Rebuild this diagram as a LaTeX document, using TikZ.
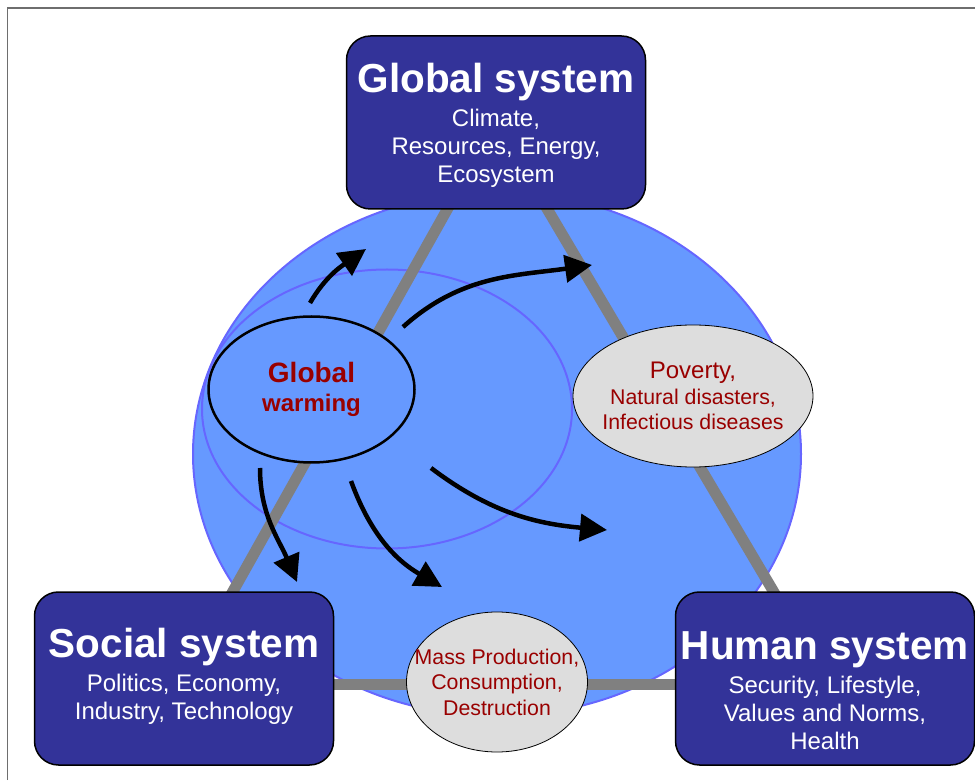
\documentclass[tikz,border=0pt]{standalone}
\usepackage{fontspec}
\setmainfont{Liberation Sans}
\usetikzlibrary{arrows.meta, shapes.geometric, backgrounds, positioning}
\definecolor{sysblue}{HTML}{333399}
\definecolor{earthblue}{HTML}{6699FF}
\definecolor{rimblue}{HTML}{6666FF}
\definecolor{linkgray}{HTML}{808080}
\definecolor{framegray}{HTML}{6E6E6E}
\definecolor{issuegray}{HTML}{DDDDDD}
\definecolor{issuered}{HTML}{990000}
\newcommand{\systitle}{\fontsize{40.5}{44}\selectfont\bfseries}
\tikzset{
  %system box style
  sysbox/.style={
    draw
    , fill=sysblue
    , line width=1.5pt
    , rounded corners=24pt
    , minimum width=299pt
    , minimum height=173pt
  },
  %white text inside the boxes
  systext/.style={
    text=white
    , align=center
    , inner sep=0pt
    , font=\fontsize{24}{28}\selectfont
  },
  %grey ellipses on the links
  issue/.style={
    ellipse
    , draw
    , fill=issuegray
    , line width=0.8pt
    , inner xsep=-30pt
    , inner ysep=-20pt
    , text=issuered
    , align=center
    , font=\fontsize{21.3}{25.5}\selectfont
  },
  warm/.style={
    ellipse
    , draw
    , fill=earthblue
    , line width=2.5pt
    , inner xsep=-20pt
    , inner ysep=-10pt
    , minimum width=206pt
    , minimum height=146pt
    , text=issuered
    , align=center
    , font=\fontsize{24}{29}\selectfont\bfseries
  },
  link/.style={draw=linkgray, line width=11pt},
  effect/.style={-{Triangle[length=27pt,width=27pt]}, line width=4.5pt},
}
\begin{document}
\begin{tikzpicture}[x=1pt, y=1pt]
  \useasboundingbox (0,0) rectangle (975,780);
  \draw[framegray, line width=1.2pt] (7.5,0) |- (975,772);

  % earth and the inner ring
  \begin{scope}[on background layer]
    \node[ellipse, draw=rimblue, fill=earthblue, line width=2pt, inner sep=0pt
          , minimum width=608pt, minimum height=524pt] (earth) at (497,326) {};
    \node[ellipse, draw=rimblue, line width=2pt, inner sep=0pt
          , minimum width=370pt, minimum height=279pt] (ring) at (387,371) {};
  \end{scope}

  % the three systems
  \node[sysbox] (global) at (496,657.5) {};
  \node[sysbox] (social) at (184,101.5) {};
  \node[sysbox] (human) at (825,101.5) {};

  \node[systext, below=28pt of global.north] (global text)
    {{\systitle Global system}\\[6pt]Climate,\\Resources, Energy,\\Ecosystem};
  \node[systext, below=37pt of social.north] (social text)
    {{\systitle Social system}\\[6pt]Politics, Economy,\\Industry, Technology};
  \node[systext, below=40pt of human.north] (human text)
    {{\systitle Human system}\\[6pt]Security, Lifestyle,\\Values and Norms,\\Health};

  \begin{scope}[on background layer]
    \draw[link] (global.center) -- (social.center);
    \draw[link] (global.center) -- (human.center);
    \draw[link] ([yshift=-5.5pt]social.center) -- ([yshift=-5.5pt]human.center);
  \end{scope}

  \node[warm] (warming) at (311.5,390.5) {{\fontsize{28}{29}\selectfont Global}\\warming};
  \node[issue, minimum width=240pt, minimum height=142pt] (poverty) at (693,384)
    {{\fontsize{24}{26}\selectfont Poverty,}\\Natural disasters,\\Infectious diseases};
  \node[issue, minimum width=181pt, minimum height=140pt] (mass) at (497,98)
    {Mass Production,\\Consumption,\\Destruction};

  % effects of global warming
  \coordinate (up tail) at (310,477);     \coordinate (up head) at (366,531);
  \coordinate (east tail) at (403,453);   \coordinate (east head) at (592,515);
  \coordinate (south tail) at (260,312);  \coordinate (south head) at (297,198);
  \coordinate (mass tail) at (351,299);   \coordinate (mass head) at (442,193);
  \coordinate (human tail) at (431,312);  \coordinate (human head) at (607,250);

  \draw[effect] (up tail) to[out=60, in=215] (up head);
  \draw[effect] (east tail) to[out=42, in=188] (east head);
  \draw[effect] (south tail) to[out=-90, in=113] (south head);
  \draw[effect] (mass tail) to[out=-70, in=150] (mass head);
  \draw[effect] (human tail) to[out=-37, in=175] (human head);
\end{tikzpicture}
\end{document}
